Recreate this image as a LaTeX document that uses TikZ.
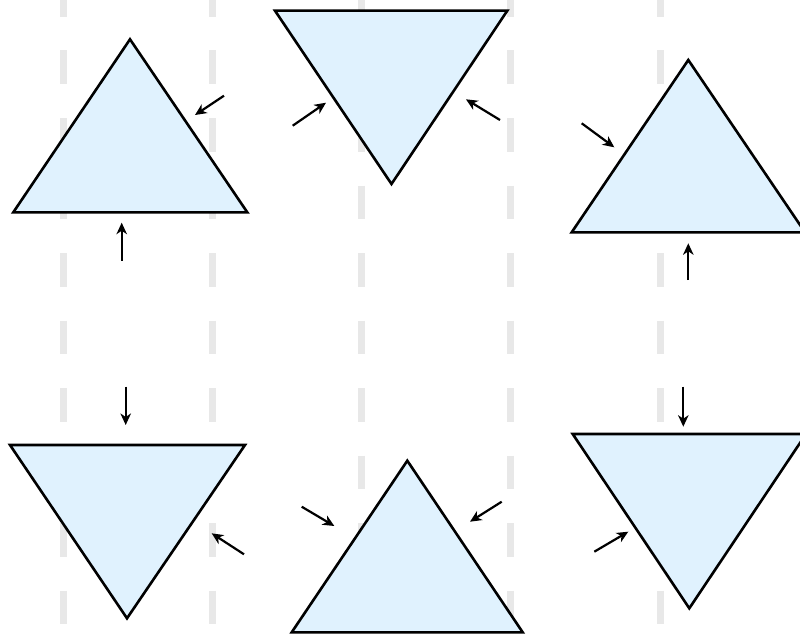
\documentclass[tikz,border=0pt]{standalone}
\usetikzlibrary{arrows.meta}
\definecolor{TriFill}{RGB}{224,242,254}
\definecolor{GuideGray}{RGB}{232,232,232}

\begin{document}
\begin{tikzpicture}[x=1pt,y=-1pt,
  tri/.style={draw=black,fill=TriFill,line width=2.6pt},
  guide/.style={draw=GuideGray,line width=7pt,dash pattern=on 33.75pt off 33.75pt,dash phase=17pt},
  push/.style={-{Stealth[length=11.5pt,width=10.5pt,inset=3.5pt]},line width=2.2pt}]
  \useasboundingbox (0,0) rectangle (800,634);
  % dashed guides
  \foreach \x in {63,212.3,361.6,510.9,660.2}
    \draw[guide] (\x,0) -- (\x,634);
  % triangles
  \draw[tri] (130,39.3) -- (247.3,212.3) -- (13.3,212.3) -- cycle;
  \draw[tri] (275,10.7) -- (507.3,10.7) -- (391.5,184) -- cycle;
  \draw[tri] (688.3,60) -- (805,232.3) -- (571.7,232.3) -- cycle;
  \draw[tri] (10,445) -- (245,445) -- (127,618.3) -- cycle;
  \draw[tri] (407.3,460.7) -- (522.7,632.3) -- (291.7,632.3) -- cycle;
  \draw[tri] (572.7,434) -- (806,434) -- (689.3,608.3) -- cycle;
  % arrow ends
  \coordinate (p1a) at (224,95.7);    \coordinate (q1a) at (195,115);
  \coordinate (p1b) at (121.7,260.7); \coordinate (q1b) at (121.7,222.7);
  \coordinate (p2a) at (292.7,125.7); \coordinate (q2a) at (326,102.7);
  \coordinate (p2b) at (500,120);     \coordinate (q2b) at (466,99.3);
  \coordinate (p3a) at (581.7,123.3); \coordinate (q3a) at (614.3,147.3);
  \coordinate (p3b) at (688.3,280);   \coordinate (q3b) at (688.3,243.3);
  \coordinate (p4a) at (125.7,386.7); \coordinate (q4a) at (125.7,425);
  \coordinate (p4b) at (244,554.3);   \coordinate (q4b) at (211.7,533.3);
  \coordinate (p5a) at (301.7,506.7); \coordinate (q5a) at (334.3,526);
  \coordinate (p5b) at (501.7,501.7); \coordinate (q5b) at (470,521.7);
  \coordinate (p6a) at (683.3,386.7); \coordinate (q6a) at (683.3,426.7);
  \coordinate (p6b) at (594.3,551.7); \coordinate (q6b) at (628.3,531.7);
  % arrows
  \foreach \i in {1,...,6}
  {
    \draw[push] (p\i a) -- (q\i a);
    \draw[push] (p\i b) -- (q\i b);
  }
\end{tikzpicture}
\end{document}
